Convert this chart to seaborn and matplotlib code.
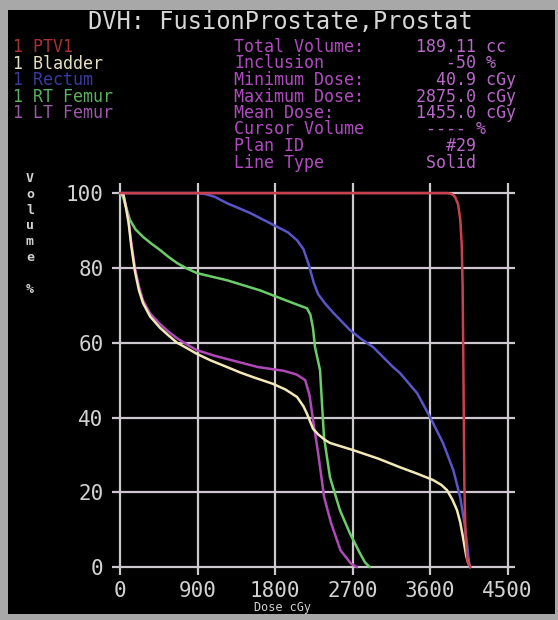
import pandas as pd
import matplotlib
matplotlib.use("Agg")
import matplotlib.pyplot as plt
import seaborn as sns
from matplotlib.patches import Rectangle

# dose (cGy) / volume (%) points
ptv_dose = [0, 3800, 3850, 3890, 3925, 3950, 3968, 3978, 3988, 3998, 4012, 4035, 4070]
ptv_vol = [100, 100, 99.8, 99, 97, 93, 86, 75, 50, 22, 8, 1.5, 0]

bladder_dose = [0, 40, 70, 100, 130, 174, 220, 267, 350, 464, 560, 662, 780, 894,
                1050, 1242, 1400, 1544, 1776, 1920, 2055, 2130, 2171, 2241, 2300,
                2380, 2438, 2705, 3000, 3251, 3450, 3634, 3730, 3796, 3860, 3913,
                3950, 3982, 4020, 4040, 4065]
bladder_vol = [100, 99.5, 96, 92, 86, 79, 74, 70.6, 67, 64, 62, 60, 58.5, 57,
               55.3, 53.5, 52, 50.8, 49, 47.5, 45.5, 43, 41, 37, 35.5,
               34, 33.2, 31.3, 29, 26.7, 25, 23.3, 22, 20.6, 18, 15.2,
               12, 8, 3, 1.3, 0]

rectum_dose = [0, 900, 1000, 1100, 1242, 1509, 1823, 1950, 2055, 2130, 2190, 2250,
               2300, 2380, 2480, 2670, 2800, 2940, 3170, 3250, 3450, 3600, 3750,
               3870, 3950, 3980, 4010, 4030, 4045, 4060]
rectum_vol = [100, 100, 99.7, 99, 97.3, 94.7, 91, 89.5, 87.4, 85, 81, 76,
              73, 70.5, 67.9, 63.4, 61, 58.8, 53.5, 51.9, 46.5, 40.1, 33.2,
              25.9, 18.7, 14.4, 10, 6, 2.7, 0]

rt_femur_dose = [0, 35, 60, 116, 180, 267, 364, 464, 560, 662, 780, 894, 1242,
                 1625, 2008, 2171, 2210, 2240, 2264, 2322, 2368, 2438, 2554,
                 2670, 2786, 2844, 2900]
rt_femur_vol = [100, 99, 97, 92.8, 90.3, 88.3, 86.5, 84.8, 83, 81.3, 79.8, 78.6,
                76.7, 74, 70.6, 69.2, 67.5, 64, 58.8, 52.7, 34.8, 24, 15.2,
                9, 3.7, 1.3, 0]

lt_femur_dose = [0, 40, 70, 100, 130, 174, 220, 267, 350, 464, 560, 662, 780, 894,
                 1100, 1300, 1600, 1900, 2050, 2150, 2200, 2250, 2300, 2370, 2450,
                 2560, 2680, 2750]
lt_femur_vol = [100, 99.5, 96.5, 92.5, 87, 80, 75, 71.3, 67.8, 65, 63, 61.2, 59.5,
                58, 56.5, 55.3, 53.5, 52.5, 51.5, 50, 46, 38, 30.5, 18.7, 11.8,
                4.5, 1, 0]

structures = ["1 PTV1", "1 Bladder", "1 Rectum", "1 RT Femur", "1 LT Femur"]
colors = {"1 PTV1": "#c8414e", "1 Bladder": "#f2e8b8", "1 Rectum": "#5a55c8",
          "1 RT Femur": "#6ccc6a", "1 LT Femur": "#b048b8"}
label_colors = {"1 PTV1": "#a83232", "1 Bladder": "#e6e0c0", "1 Rectum": "#3a3aa0",
                "1 RT Femur": "#5cb060", "1 LT Femur": "#9a5aa8"}

info_labels = ["Total Volume:", "Inclusion", "Minimum Dose:", "Maximum Dose:",
               "Mean Dose:", "Cursor Volume", "Plan ID", "Line Type"]
info_values = ["189.11 cc", "   -50 %", "  40.9 cGy", "2875.0 cGy",
               "1455.0 cGy", " ---- %", "   #29", " Solid"]

x_ticks = [0, 900, 1800, 2700, 3600, 4500]
y_ticks = [0, 20, 40, 60, 80, 100]

frames = []
for name, d, v in [("1 PTV1", ptv_dose, ptv_vol),
                   ("1 Bladder", bladder_dose, bladder_vol),
                   ("1 Rectum", rectum_dose, rectum_vol),
                   ("1 RT Femur", rt_femur_dose, rt_femur_vol),
                   ("1 LT Femur", lt_femur_dose, lt_femur_vol)]:
    frames.append(pd.DataFrame({"dose": d, "volume": v, "structure": name}))
df = pd.concat(frames, ignore_index=True)

sns.set_style("dark")
plt.rcParams["font.family"] = ["DejaVu Sans Mono", "DejaVu Sans"]

fig = plt.figure(figsize=(5.58, 6.2), dpi=100)
fig.patch.set_facecolor("#a8a8a8")
fig.patches.append(Rectangle((8 / 558, 6 / 620), 547 / 558, 604 / 620,
                             transform=fig.transFigure, facecolor="black",
                             edgecolor="none", zorder=-5))

ax = fig.add_axes([112 / 558, 45 / 620, 403 / 558, 392 / 620])
ax.set_zorder(2)
ax.set_facecolor("black")

# plot order: bottom to top
order = ["1 Rectum", "1 RT Femur", "1 LT Femur", "1 Bladder", "1 PTV1"]
for name in order:
    sub = df[df["structure"] == name]
    sns.lineplot(data=sub, x="dose", y="volume", color=colors[name], sort=False,
                 estimator=None, linewidth=1.8, ax=ax, zorder=3, legend=False)

ax.set_xlim(-93, 4586)
ax.set_ylim(-2.1, 102.7)
ax.set_xticks(x_ticks)
ax.set_yticks(y_ticks)
ax.grid(True, color="#cdc8cd", linewidth=1.6)
ax.set_axisbelow(True)
for s in ax.spines.values():
    s.set_visible(False)
ax.tick_params(length=0, labelsize=15, colors="#d2d2d2", pad=4)
ax.tick_params(axis="y", pad=6)
ax.set_xlabel("")
ax.set_ylabel("")

fig.text(282 / 558, 1 - 607 / 620, "Dose cGy", fontsize=8.5, color="#d0d0d0",
         ha="center", va="center")
fig.text(30 / 558, 1 - 172 / 620, "V\no\nl\nu\nm\ne\n \n%", fontsize=9.5,
         color="#d0d0d0", ha="center", va="top", linespacing=1.28,
         fontweight="bold")

fig.text(280 / 558, 1 - 22 / 620, "DVH: FusionProstate,Prostat", fontsize=17,
         color="#d6d6d6", ha="center", va="center")

for i, name in enumerate(structures):
    fig.text(13 / 558, 1 - (47 + i * 16.6) / 620, name, fontsize=12,
             color=label_colors[name], ha="left", va="center")

for i, (lab, val) in enumerate(zip(info_labels, info_values)):
    y = 1 - (47 + i * 16.5) / 620
    fig.text(234 / 558, y, lab, fontsize=12, color="#b04cc0", ha="left", va="center")
    fig.text(416 / 558, y, val, fontsize=12, color="#b868c8", ha="left", va="center")

fig.savefig("out.png", dpi=100, facecolor=fig.get_facecolor())
